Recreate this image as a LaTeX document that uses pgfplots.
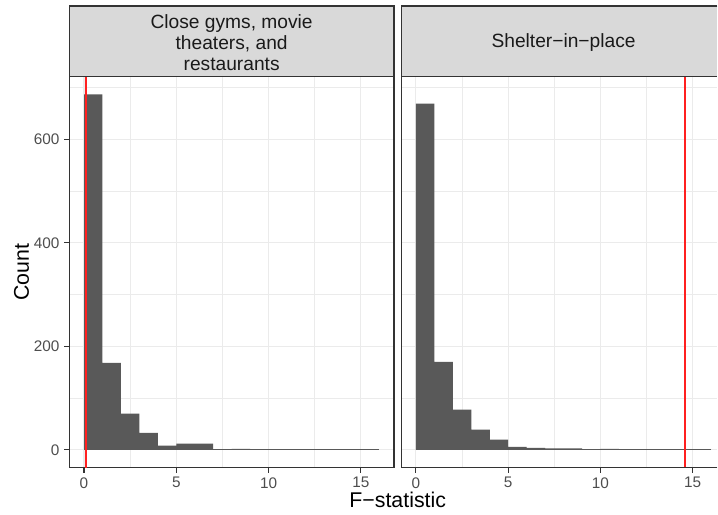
\documentclass[border=0pt]{standalone}
\usepackage{pgfplots}
\pgfplotsset{compat=1.18}
\usepackage{pgfplotstable}
\usepackage{fontspec}
\setmainfont{Liberation Sans}
\definecolor{barc}{HTML}{595959}
\definecolor{gridc}{HTML}{EBEBEB}
\definecolor{framec}{HTML}{333333}
\definecolor{stripc}{HTML}{D9D9D9}
\definecolor{tickc}{HTML}{4D4D4D}
\definecolor{stript}{HTML}{1A1A1A}
\definecolor{vline}{HTML}{FF2020}

\pgfplotstableread{
x y
0 687
1 168
2 70
3 33
4 8
5 12
6 12
7 0
8 2
9 0
10 0
11 0
12 0
13 0
14 0
15 0
16 0
}\leftdata

\pgfplotstableread{
x y
0 669
1 170
2 78
3 39
4 20
5 6
6 4
7 3
8 3
9 0
10 2
11 0
12 0
13 0
14 0
15 0
16 0
}\rightdata

\pgfplotsset{panel/.style={
  scale only axis, height=293.5pt,
  xmin=-0.8, ymin=-34.35, ymax=721.35,
  axis line style={framec, line width=0.8pt},
  xtick={0,5,10,15}, ytick={0,200,400,600},
  minor xtick={2.5,7.5,12.5}, minor ytick={100,300,500,700},
  grid=both,
  major grid style={gridc, line width=0.8pt},
  minor grid style={gridc, line width=0.4pt},
  tick style={framec, line width=0.8pt},
  major tick length=3.8pt, minor tick length=0pt,
  tick align=outside, tick pos=left,
  /pgf/number format/assume math mode=true,
  ticklabel style={font=\fontsize{11.5}{13}\selectfont, text=tickc},
}}

\begin{document}
\begin{tikzpicture}[x=0.75pt,y=0.75pt]
\path (0,0) rectangle (718,515);

% left panel
\begin{axis}[panel, width=243.75pt, xmax=16.8, at={(51.975pt,35.25pt)}, anchor=south west]
\addplot[ybar interval, fill=barc, draw=none] table[x=x,y=y] {\leftdata};
\addplot[draw=barc, line width=0.6pt] coordinates {(0,0) (16,0)};
\end{axis}

% right panel (cut at the picture's right edge, as in the reference)
\begin{axis}[panel, width=237.375pt, xmax=16.34, at={(301.125pt,35.25pt)}, anchor=south west,
  axis line style={draw=none},
  yticklabels={}, y tick style={draw=none}]
\addplot[ybar interval, fill=barc, draw=none] table[x=x,y=y] {\rightdata};
\addplot[draw=barc, line width=0.6pt] coordinates {(0,0) (16,0)};
\addplot[color=vline, line width=1.1pt] coordinates {(14.58,-34.35) (14.58,721.35)};
\draw[framec, line width=0.8pt] (rel axis cs:1,0) -- (rel axis cs:0,0) -- (rel axis cs:0,1) -- (rel axis cs:1,1);
\end{axis}

% strips
\draw[fill=stripc, draw=framec, line width=0.8pt] (69.3,509) rectangle (394.3,438.3);
\fill[stripc] (401.5,509) rectangle (718,438.3);
\draw[framec, line width=0.8pt] (718,509) -- (401.5,509) -- (401.5,438.3) -- (718,438.3);
\node[text=stript, align=center, font=\fontsize{14.4}{15.8}\selectfont] at (231.8,472.5)
  {Close gyms, movie\\theaters, and\\restaurants};
\node[text=stript, font=\fontsize{14.4}{15.8}\selectfont] at (564,472.5) {Shelter−in−place};

% axis titles
\node[rotate=90, font=\fontsize{16}{18}\selectfont] at (21.5,242.7) {Count};
\node[font=\fontsize{16}{18}\selectfont] at (398,15) {F−statistic};

% overlay axis for the left reference line, drawn last
\begin{axis}[scale only axis, hide axis, width=243.75pt, height=293.5pt,
  xmin=-0.8, xmax=16.8, ymin=-34.35, ymax=721.35,
  at={(51.975pt,35.25pt)}, anchor=south west]
\addplot[color=vline, line width=1.2pt] coordinates {(0.1,-34.35) (0.1,721.35)};
\end{axis}
\end{tikzpicture}
\end{document}
